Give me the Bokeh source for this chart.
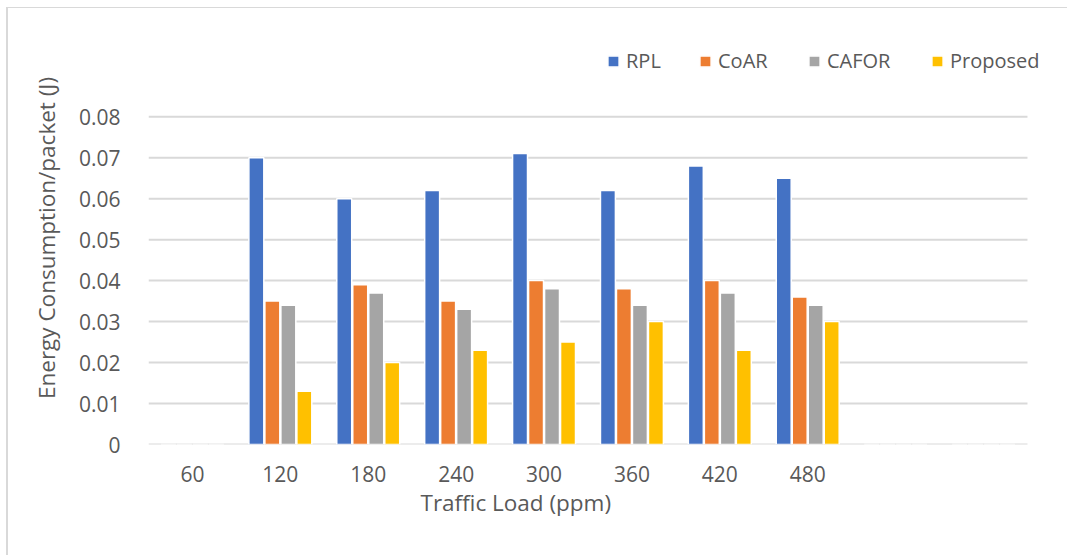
from bokeh.plotting import figure
from bokeh.models import ColumnDataSource, FixedTicker, Legend, LegendItem, PrintfTickFormatter, Title
from bokeh.embed import file_html
from bokeh.resources import INLINE

categories = ["60", "120", "180", "240", "300", "360", "420", "480", "", ""]
rpl = [0, 0.070, 0.060, 0.062, 0.071, 0.062, 0.068, 0.065, 0, 0]
coar = [0, 0.035, 0.039, 0.035, 0.040, 0.038, 0.040, 0.036, 0, 0]
cafor = [0, 0.034, 0.037, 0.033, 0.038, 0.034, 0.037, 0.034, 0, 0]
proposed = [0, 0.013, 0.020, 0.023, 0.025, 0.030, 0.023, 0.030, 0, 0]
series_names = ["RPL", "CoAR", "CAFOR", "Proposed"]
series_values = [rpl, coar, cafor, proposed]
colors = ["#4472C4", "#ED7D31", "#A5A5A5", "#FFC000"]
y_ticks = [0, 0.01, 0.02, 0.03, 0.04, 0.05, 0.06, 0.07, 0.08]
x_title = "Traffic Load (ppm)"
y_title = "Energy Consumption/packet (J)"

FONT = "Open Sans"
TXT = "#595959"
GRID = "#d9d9d9"
FS_TICK = "21px"
FS_LABEL = "22.5px"
FS_LEG = "20px"

n = len(categories)
xs = list(range(n))
p = figure(width=1061, height=548, output_backend="svg", toolbar_location=None,
           x_range=(-0.5, 9.762), y_range=(0, 0.1008),
           min_border_left=140, min_border_right=19, min_border_top=23, min_border_bottom=112)
p.margin = (7, 0, 0, 6)
p.styles = {"border-top": "1px solid #d9d9d9", "border-left": "2px solid #d9d9d9"}
p.outline_line_color = None
p.background_fill_color = "white"

# horizontal gridlines over the category span only (plot area of the original)
p.segment(x0=[-0.5] * len(y_ticks), x1=[n - 0.5] * len(y_ticks), y0=y_ticks, y1=y_ticks,
          line_color=GRID, line_width=2)

offsets = [-0.273, -0.091, 0.091, 0.273]
renderers = []
for name, vals, col, off in zip(series_names, series_values, colors, offsets):
    src = ColumnDataSource(dict(x=[x + off for x in xs], top=vals))
    r = p.vbar(x="x", top="top", width=0.17, source=src, fill_color=col, line_color="white", line_width=1.5)
    renderers.append((name, r))

p.xgrid.grid_line_color = None
p.ygrid.grid_line_color = None

p.yaxis.ticker = FixedTicker(ticks=y_ticks)
p.yaxis.formatter = PrintfTickFormatter(format="%.2f")
p.yaxis.major_label_overrides = {0: "0"}
p.yaxis.axis_line_color = None
p.yaxis.major_tick_line_color = None
p.yaxis.minor_tick_line_color = None
p.yaxis.major_label_standoff = 22
p.yaxis.axis_label = y_title
p.yaxis.axis_label_standoff = 14

p.xaxis.ticker = FixedTicker(ticks=[i for i, c in enumerate(categories) if c])
p.xaxis.major_label_overrides = {i: c for i, c in enumerate(categories) if c}
p.xaxis.axis_line_color = None
p.xaxis.major_tick_line_color = None
p.xaxis.minor_tick_line_color = None
p.xaxis.major_label_standoff = 15

for ax in (p.xaxis[0], p.yaxis[0]):
    ax.major_label_text_font = FONT
    ax.major_label_text_font_size = FS_TICK
    ax.major_label_text_color = TXT
    ax.axis_label_text_font = FONT
    ax.axis_label_text_font_size = FS_LABEL
    ax.axis_label_text_color = TXT
    ax.axis_label_text_font_style = "normal"

xt = Title(text=x_title, align="left", offset=272, standoff=0,
           text_font=FONT, text_font_size=FS_LABEL, text_color=TXT, text_font_style="normal")
p.add_layout(xt, "below")

leg_x = [458, 550, 659, 782]
for (name, r), lx in zip(renderers, leg_x):
    lg = Legend(items=[LegendItem(label=name, renderers=[r])],
                orientation="horizontal", location=(lx, 370),
                glyph_width=14, glyph_height=14, label_height=26, label_standoff=6,
                padding=0, margin=0, border_line_color=None, background_fill_alpha=0,
                label_text_font=FONT, label_text_font_size=FS_LEG, label_text_color=TXT)
    p.add_layout(lg, "center")

open("out.html", "w").write(file_html(p, INLINE))
